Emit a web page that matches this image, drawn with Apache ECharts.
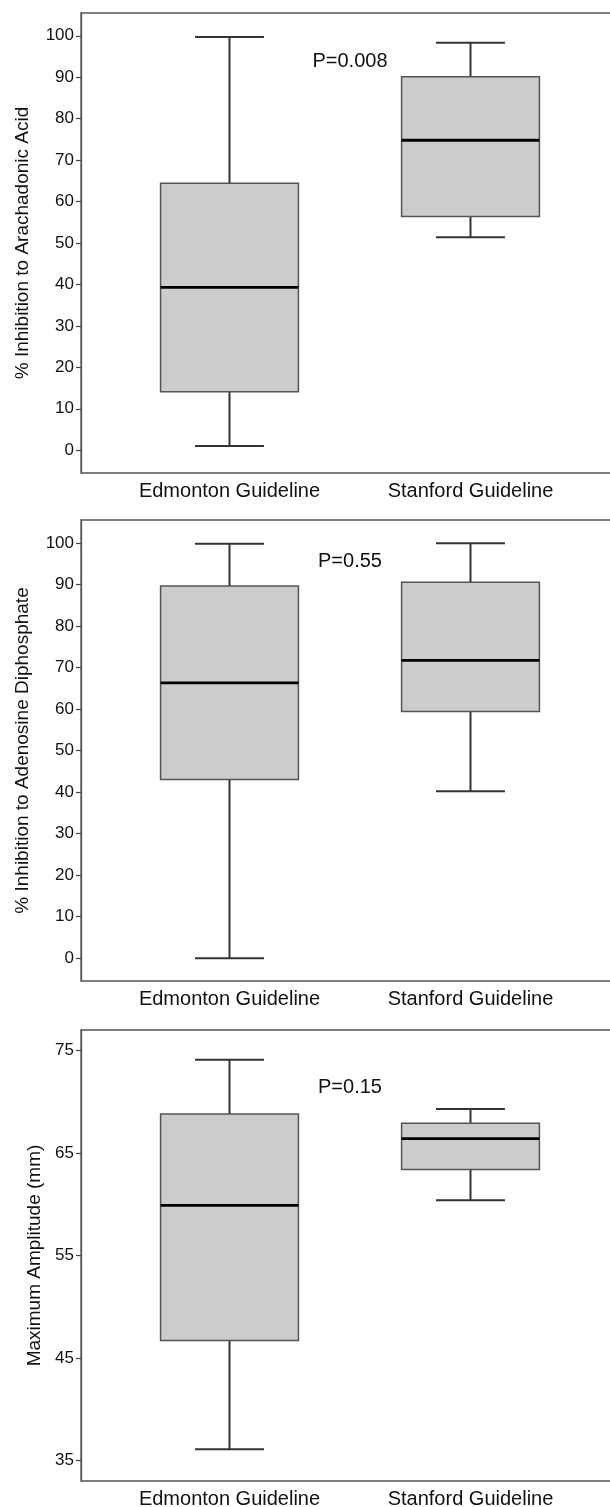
<!DOCTYPE html>
<html>
<head>
<meta charset="utf-8">
<script src="https://cdn.jsdelivr.net/npm/echarts@6/dist/echarts.min.js"></script>
<style>
  html, body { margin: 0; padding: 0; background: #fff; overflow: hidden; }
  #chart { width: 610px; height: 1507px; }
</style>
</head>
<body>
<div id="chart"></div>
<script>
// ---- data ----
const categories = ['Edmonton Guideline', 'Stanford Guideline'];
// [min, Q1, median, Q3, max]
const arachidonicBoxes = [[1.0, 14.1, 39.3, 64.4, 99.7], [51.4, 56.4, 74.8, 90.1, 98.3]];
const adpBoxes = [[0.0, 43.0, 66.3, 89.6, 99.8], [40.2, 59.4, 71.7, 90.5, 99.9]];
const amplitudeBoxes = [[36.1, 46.7, 59.9, 68.8, 74.1], [60.4, 63.4, 66.4, 67.9, 69.3]];
const percentTicks = [0, 10, 20, 30, 40, 50, 60, 70, 80, 90, 100];
const amplitudeTicks = [35, 45, 55, 65, 75];
const yTitles = ['% Inhibition to Arachadonic Acid', '% Inhibition to Adenosine Diphosphate', 'Maximum Amplitude (mm)'];
const pLabels = ['P=0.008', 'P=0.55', 'P=0.15'];

// ---- layout / style ----
const FONT = "'Liberation Sans', Arial, sans-serif";
const panels = [
  { boxes: arachidonicBoxes, ticks: percentTicks, min: -5.5, max: 105.5, top: 13, height: 460, nameGap: 49, pY: 93.7 },
  { boxes: adpBoxes, ticks: percentTicks, min: -5.5, max: 105.5, top: 520, height: 461, nameGap: 49, pY: 95.5 },
  { boxes: amplitudeBoxes, ticks: amplitudeTicks, min: 33, max: 77, top: 1030, height: 451, nameGap: 32, pY: 71.4 }
];
const FRAME = '#555555';

function renderBox(params, api) {
  const idx = api.value(0);
  const v = [api.value(1), api.value(2), api.value(3), api.value(4), api.value(5)];
  const band = api.size([1, 0])[0];
  const bw = band * 0.572;
  const cw = bw / 2;
  const p = v.map(val => api.coord([idx, val]));
  const x = p[2][0];
  const ls = { stroke: '#333', lineWidth: 2 };
  return {
    type: 'group',
    children: [
      { type: 'line', shape: { x1: x, y1: p[3][1], x2: x, y2: p[4][1] }, style: ls },
      { type: 'line', shape: { x1: x, y1: p[1][1], x2: x, y2: p[0][1] }, style: ls },
      { type: 'line', shape: { x1: x - cw / 2, y1: p[4][1], x2: x + cw / 2, y2: p[4][1] }, style: ls },
      { type: 'line', shape: { x1: x - cw / 2, y1: p[0][1], x2: x + cw / 2, y2: p[0][1] }, style: ls },
      { type: 'rect', shape: { x: x - bw / 2, y: p[3][1], width: bw, height: p[1][1] - p[3][1] },
        style: { fill: '#cccccc', stroke: '#555', lineWidth: 1.5 } },
      { type: 'line', shape: { x1: x - bw / 2, y1: p[2][1], x2: x + bw / 2, y2: p[2][1] },
        style: { stroke: '#000', lineWidth: 2.8 } }
    ]
  };
}

function renderP(params, api) {
  const y = api.value(1);
  const a = api.coord([0, y]);
  const b = api.coord([1, y]);
  return {
    type: 'text',
    style: {
      text: pLabels[api.value(2)],
      x: (a[0] + b[0]) / 2, y: a[1],
      align: 'center', verticalAlign: 'middle',
      font: '20px ' + FONT, fill: '#111'
    }
  };
}

const grid = [], xAxis = [], yAxis = [], series = [];
panels.forEach((pn, i) => {
  grid.push({ left: 81, width: 580, top: pn.top, height: pn.height, show: true,
    outerBoundsMode: 'none', containLabel: false,
    borderColor: FRAME, borderWidth: 1.3, backgroundColor: 'transparent' });
  grid.push({ left: 109, width: 482, top: pn.top, height: pn.height,
    outerBoundsMode: 'none', containLabel: false });
  xAxis.push({ gridIndex: 2 * i, type: 'value', min: 0, max: 1, show: false });
  xAxis.push({ gridIndex: 2 * i + 1, type: 'category', data: categories,
    axisLine: { show: false }, axisTick: { show: false },
    axisLabel: { fontSize: 20, fontFamily: FONT, color: '#111', margin: 8 } });
  yAxis.push({ gridIndex: 2 * i, type: 'value', min: pn.min, max: pn.max,
    axisLine: { show: true, lineStyle: { color: FRAME, width: 1.3 } },
    axisTick: { show: true, length: 5, customValues: pn.ticks, lineStyle: { color: '#444', width: 1.2 } },
    axisLabel: { customValues: pn.ticks, fontSize: 17, fontFamily: FONT, color: '#111', margin: 7 },
    splitLine: { show: false },
    name: yTitles[i], nameLocation: 'middle', nameGap: pn.nameGap,
    nameTextStyle: { fontSize: 19, fontFamily: FONT, color: '#111' } });
  yAxis.push({ gridIndex: 2 * i + 1, type: 'value', min: pn.min, max: pn.max, show: false });
  series.push({
    type: 'custom', xAxisIndex: 2 * i + 1, yAxisIndex: 2 * i + 1,
    renderItem: renderBox,
    encode: { x: 0, y: [1, 2, 3, 4, 5] },
    data: pn.boxes.map((b, k) => [k].concat(b)),
    silent: true
  });
  series.push({
    type: 'custom', xAxisIndex: 2 * i + 1, yAxisIndex: 2 * i + 1,
    renderItem: renderP,
    encode: { x: 0, y: 1 },
    data: [[0, pn.pY, i]],
    silent: true
  });
});

const chart = echarts.init(document.getElementById('chart'), null, { renderer: 'canvas' });
chart.setOption({
  animation: false,
  backgroundColor: '#fff',
  textStyle: { fontFamily: FONT },
  grid, xAxis, yAxis, series
});
</script>
</body>
</html>
